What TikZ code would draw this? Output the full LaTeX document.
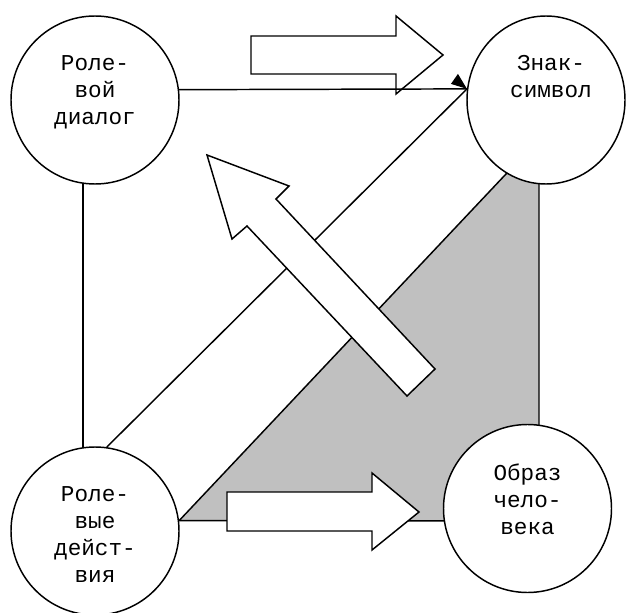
\documentclass[tikz,border=0pt]{standalone}
\usepackage{fontspec}
\setmonofont{Liberation Mono}
\usepackage{tikz}
\usetikzlibrary{positioning, calc, shapes.geometric, backgrounds}
\definecolor{TriGray}{RGB}{192, 192, 192}
\tikzset{
  rolecirc/.style={circle, draw=black, fill=white, line width=1.1pt,
                   minimum size=126pt, inner sep=0pt},
  roletext/.style={anchor=north, inner sep=0pt, align=center, text=black,
                   font=\ttfamily\fontsize{17}{20.25}\selectfont},
  link/.style={draw=black, line width=1.1pt},
  bigarr/.style={draw=black, fill=white, line width=1.1pt, line join=miter},
}
\begin{document}
\begin{tikzpicture}[x=0.75pt, y=-0.75pt]
  \useasboundingbox (0,0) rectangle (628,613);
  \node[rolecirc] (dialog) at (95,100) {};
  \node[rolecirc, ellipse, minimum width=118.5pt, minimum height=126pt] (znak) at (546,100) {};
  \node[rolecirc] (actions) at (95,531) {};
  \node[rolecirc] (obraz) at (527.5,508.5) {};
  \node[roletext] (dialogtxt) at ([yshift=-30pt]dialog.north) {Роле-\\вой\\диалог};
  \node[roletext] (znaktxt) at ([xshift=3.75pt, yshift=-30pt]znak.north) {Знак-\\символ};
  \node[roletext] (actionstxt) at ([yshift=-30pt]actions.north) {Роле-\\вые\\дейст-\\вия};
  \node[roletext] (obraztxt) at ([yshift=-30pt]obraz.north) {Образ\\чело-\\века};
  \coordinate (trirt) at (539,521);
  \coordinate (tritop) at (539,139);
  \begin{scope}[on background layer]
    \draw[link, fill=TriGray] (actions.7) -- (trirt) -- (tritop) -- cycle;
    \draw[link] (dialog.262) -- (actions.98);
    \draw[link] (actions.82) -- (znak.172);
    \draw[bigarr] (207,155) -- (289,186) -- (276,199) -- (435,369) -- (407,396)
      -- (247,226) -- (232,239) -- cycle;
    \draw[bigarr] (227,492) -- (372,492) -- (372,473) -- (419,512) -- (372,550)
      -- (372,531) -- (227,531) -- cycle;
    \draw[bigarr] (251,36) -- (396,36) -- (396,16) -- (443,55) -- (396,94)
      -- (396,74) -- (251,74) -- cycle;
    \draw[link] (dialog.7.5) -- (znak.172);
    \fill (znak.172) -- +(-16,-5) -- +(-9,-15) -- cycle;
  \end{scope}
\end{tikzpicture}
\end{document}
